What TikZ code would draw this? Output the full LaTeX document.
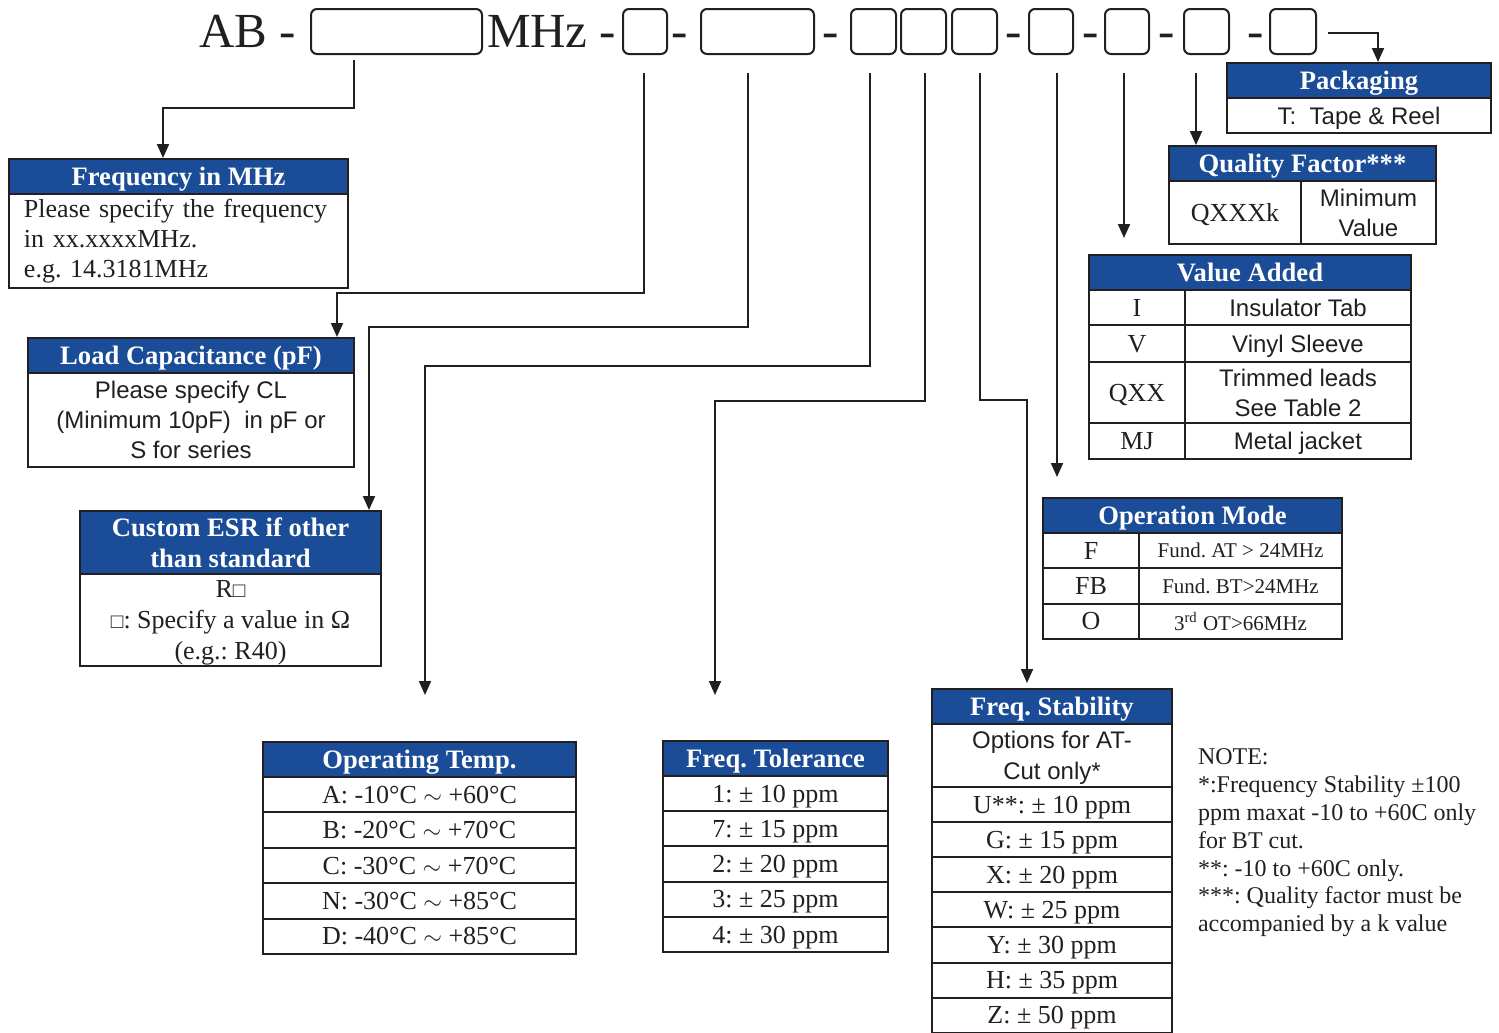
\documentclass[tikz,border=0pt]{standalone}
\usepackage{fontspec}
\usepackage{graphicx}
\setmainfont{Liberation Serif}
\newfontfamily\sfa{Liberation Sans}
\usetikzlibrary{arrows.meta}
\definecolor{hdblue}{RGB}{27,76,151}
\definecolor{ink}{RGB}{35,31,32}
\newcommand{\wsq}{\scalebox{0.8}{□}}
\frenchspacing
\begin{document}
\begin{tikzpicture}[x=0.5pt,y=-0.5pt,line width=1pt,draw=ink,
  sz/.style 2 args={minimum width=#1*0.5pt,minimum height=#2*0.5pt},
  hd/.style={draw=ink,fill=hdblue,text=white,anchor=north west,inner sep=0pt,text depth=0pt,align=center,font=\bfseries\fontsize{13.3}{15.5}\selectfont},
  cl/.style={draw=ink,fill=white,text=ink,anchor=north west,inner sep=0pt,text depth=0pt,align=center,font=\fontsize{13}{15}\selectfont},
  sf/.style={font=\sfa\fontsize{12}{15}\selectfont},
  pbox/.style={draw=ink,rounded corners=3pt,anchor=north west,inner sep=0pt},
  ttl/.style={text=ink,inner sep=0pt,anchor=base,font=\fontsize{24.5}{28}\selectfont},
  arr/.style={draw=ink,-{Triangle[width=6pt,length=7pt]}}]
  \useasboundingbox (0,0) rectangle (1499,1033);
  % part number line
  \node[ttl,anchor=base west] (ab) at (198,47) {AB -};
  \node[pbox,sz={171}{45}] (b1) at (310,8) {};
  \node[ttl,anchor=base west] (mhz) at (486,47) {MHz -};
  \node[pbox,sz={44}{45}] (b2) at (622,8) {};
  \node[ttl] (d1) at (680,47) {-};
  \node[pbox,sz={113}{45}] (b3) at (700,8) {};
  \node[ttl] (d2) at (831,47) {-};
  \node[pbox,sz={45}{45}] (b4) at (850,8) {};
  \node[pbox,sz={45}{45}] (b5) at (900,8) {};
  \node[pbox,sz={45}{45}] (b6) at (951,8) {};
  \node[ttl] (d3) at (1014,47) {-};
  \node[pbox,sz={44}{45}] (b7) at (1028,8) {};
  \node[ttl] (d4) at (1091,47) {-};
  \node[pbox,sz={44}{45}] (b8) at (1104,8) {};
  \node[ttl] (d5) at (1167,47) {-};
  \node[pbox,sz={45}{45}] (b9) at (1183,8) {};
  \node[ttl] (d6) at (1256,47) {-};
  \node[pbox,sz={46}{45}] (b10) at (1269,8) {};

  % frequency
  \node[hd,sz={339}{35}] (frq) at (8,158) {Frequency in MHz};
  \node[cl,sz={339}{94},text depth=,text width=154.5pt,inner xsep=7.5pt,align=left] (frqb) at (8,193) {Please specify the frequency\\in xx.xxxxMHz.\\e.g. 14.3181MHz};
  % load capacitance
  \node[hd,sz={326}{35}] (lc) at (27,337) {Load Capacitance (pF)};
  \node[cl,sf,sz={326}{94}] (lcb) at (27,372) {Please specify CL\\(Minimum 10pF)\ \ in pF or\\S for series};
  % custom esr
  \node[hd,sz={301}{63}] (esr) at (79,510) {Custom ESR if other\\than standard};
  \node[cl,sz={301}{92},font=\fontsize{13}{15.5}\selectfont] (esrb) at (79,573) {R\wsq\\\wsq: Specify a value in Ω\\(e.g.: R40)};

  % operating temp
  \node[hd,sz={313}{35}] (tmp) at (262,741) {Operating Temp.};
  \node[cl,sz={313}{35.4}] (tmp1) at (262,776) {A: -10°C $\sim$ +60°C};
  \node[cl,sz={313}{35.4}] (tmp2) at (262,811.4) {B: -20°C $\sim$ +70°C};
  \node[cl,sz={313}{35.4}] (tmp3) at (262,846.8) {C: -30°C $\sim$ +70°C};
  \node[cl,sz={313}{35.4}] (tmp4) at (262,882.2) {N: -30°C $\sim$ +85°C};
  \node[cl,sz={313}{35.4}] (tmp5) at (262,917.6) {D: -40°C $\sim$ +85°C};

  % freq tolerance
  \node[hd,sz={225}{35}] (tol) at (662,740) {Freq. Tolerance};
  \node[cl,sz={225}{35.2}] (tol1) at (662,775) {1: ± 10 ppm};
  \node[cl,sz={225}{35.2}] (tol2) at (662,810.2) {7: ± 15 ppm};
  \node[cl,sz={225}{35.2}] (tol3) at (662,845.4) {2: ± 20 ppm};
  \node[cl,sz={225}{35.2}] (tol4) at (662,880.6) {3: ± 25 ppm};
  \node[cl,sz={225}{35.2}] (tol5) at (662,915.8) {4: ± 30 ppm};

  % freq stability
  \node[hd,sz={240}{35}] (stb) at (931,688) {Freq. Stability};
  \node[cl,sf,sz={240}{63},font=\sfa\fontsize{12}{15.5}\selectfont] (stb0) at (931,723) {Options for AT-\\Cut only*};
  \node[cl,sz={240}{35.1}] (stb1) at (931,786) {U**: ± 10 ppm};
  \node[cl,sz={240}{35.1}] (stb2) at (931,821.1) {G: ± 15 ppm};
  \node[cl,sz={240}{35.1}] (stb3) at (931,856.2) {X: ± 20 ppm};
  \node[cl,sz={240}{35.1}] (stb4) at (931,891.3) {W: ± 25 ppm};
  \node[cl,sz={240}{35.1}] (stb5) at (931,926.4) {Y: ± 30 ppm};
  \node[cl,sz={240}{35.1}] (stb6) at (931,961.5) {H: ± 35 ppm};
  \node[cl,sz={240}{35.1}] (stb7) at (931,996.6) {Z: ± 50 ppm};

  % operation mode
  \node[hd,sz={299}{35}] (opm) at (1042,497) {Operation Mode};
  \node[cl,sz={96}{35.3}] (opm1a) at (1042,532) {F};
  \node[cl,sz={203}{35.3},font=\fontsize{10.5}{12}\selectfont] (opm1b) at (1138,532) {Fund. AT > 24MHz};
  \node[cl,sz={96}{35.3}] (opm2a) at (1042,567.3) {FB};
  \node[cl,sz={203}{35.3},font=\fontsize{10.5}{12}\selectfont] (opm2b) at (1138,567.3) {Fund. BT>24MHz};
  \node[cl,sz={96}{35.3}] (opm3a) at (1042,602.6) {O};
  \node[cl,sz={203}{35.3},font=\fontsize{10.5}{12}\selectfont] (opm3b) at (1138,602.6) {3\textsuperscript{rd} OT>66MHz};

  % value added
  \node[hd,sz={322}{35}] (val) at (1088,254) {Value Added};
  \node[cl,sz={96}{35}] (val1a) at (1088,289) {I};
  \node[cl,sf,sz={226}{35}] (val1b) at (1184,289) {Insulator Tab};
  \node[cl,sz={96}{37}] (val2a) at (1088,324) {V};
  \node[cl,sf,sz={226}{37}] (val2b) at (1184,324) {Vinyl Sleeve};
  \node[cl,sz={96}{61}] (val3a) at (1088,361) {QXX};
  \node[cl,sf,sz={226}{61}] (val3b) at (1184,361) {Trimmed leads\\See Table 2};
  \node[cl,sz={96}{36}] (val4a) at (1088,422) {MJ};
  \node[cl,sf,sz={226}{36}] (val4b) at (1184,422) {Metal jacket};

  % quality factor
  \node[hd,sz={267}{35}] (qf) at (1168,145) {Quality Factor***};
  \node[cl,sz={132}{63}] (qfa) at (1168,180) {QXXXk};
  \node[cl,sf,sz={135}{63}] (qfb) at (1300,180) {Minimum\\Value};

  % packaging
  \node[hd,sz={264}{35}] (pkg) at (1226,62) {Packaging};
  \node[cl,sf,sz={264}{35}] (pkgb) at (1226,97) {T:\ \ Tape \& Reel};

  % note
  \node[anchor=west,align=left,inner sep=0pt,text=ink,font=\fontsize{12}{13.9}\selectfont] (note) at (1197,843) {NOTE:\\*:Frequency Stability ±100\\ppm maxat -10 to +60C only\\for BT cut.\\**: -10 to +60C only.\\***: Quality factor must be\\accompanied by a k value};

  % connectors
  \coordinate (s1) at (354,60);   \coordinate (k1) at (163,108);
  \coordinate (s2) at (644,73);   \coordinate (k2) at (337,293);
  \coordinate (s3) at (748,73);   \coordinate (k3) at (369,327);
  \coordinate (s4) at (870,73);   \coordinate (k4) at (425,366);  \coordinate (e4) at (425,695);
  \coordinate (s5) at (925,73);   \coordinate (k5) at (715,401);  \coordinate (e5) at (715,695);
  \coordinate (s6) at (980,73);   \coordinate (k6) at (1027,400); \coordinate (e6) at (1027,683);
  \coordinate (s7) at (1057,73);  \coordinate (e7) at (1057,477);
  \coordinate (s8) at (1124,73);  \coordinate (e8) at (1124,238);
  \coordinate (s9) at (1196,73);
  \coordinate (s10) at (1328,33); \coordinate (k10) at (1378,33);
  \draw[arr] (s1) |- (k1) -- (k1 |- frq.north);
  \draw[arr] (s2) |- (k2) -- (k2 |- lc.north);
  \draw[arr] (s3) |- (k3) -- (k3 |- esr.north);
  \draw[arr] (s4) |- (k4) -- (e4);
  \draw[arr] (s5) |- (k5) -- (e5);
  \draw[arr] (s6) |- (k6) -- (e6);
  \draw[arr] (s7) -- (e7);
  \draw[arr] (s8) -- (e8);
  \draw[arr] (s9) -- (s9 |- qf.north);
  \draw[arr] (s10) -- (k10) -- (k10 |- pkg.north);
\end{tikzpicture}
\end{document}
